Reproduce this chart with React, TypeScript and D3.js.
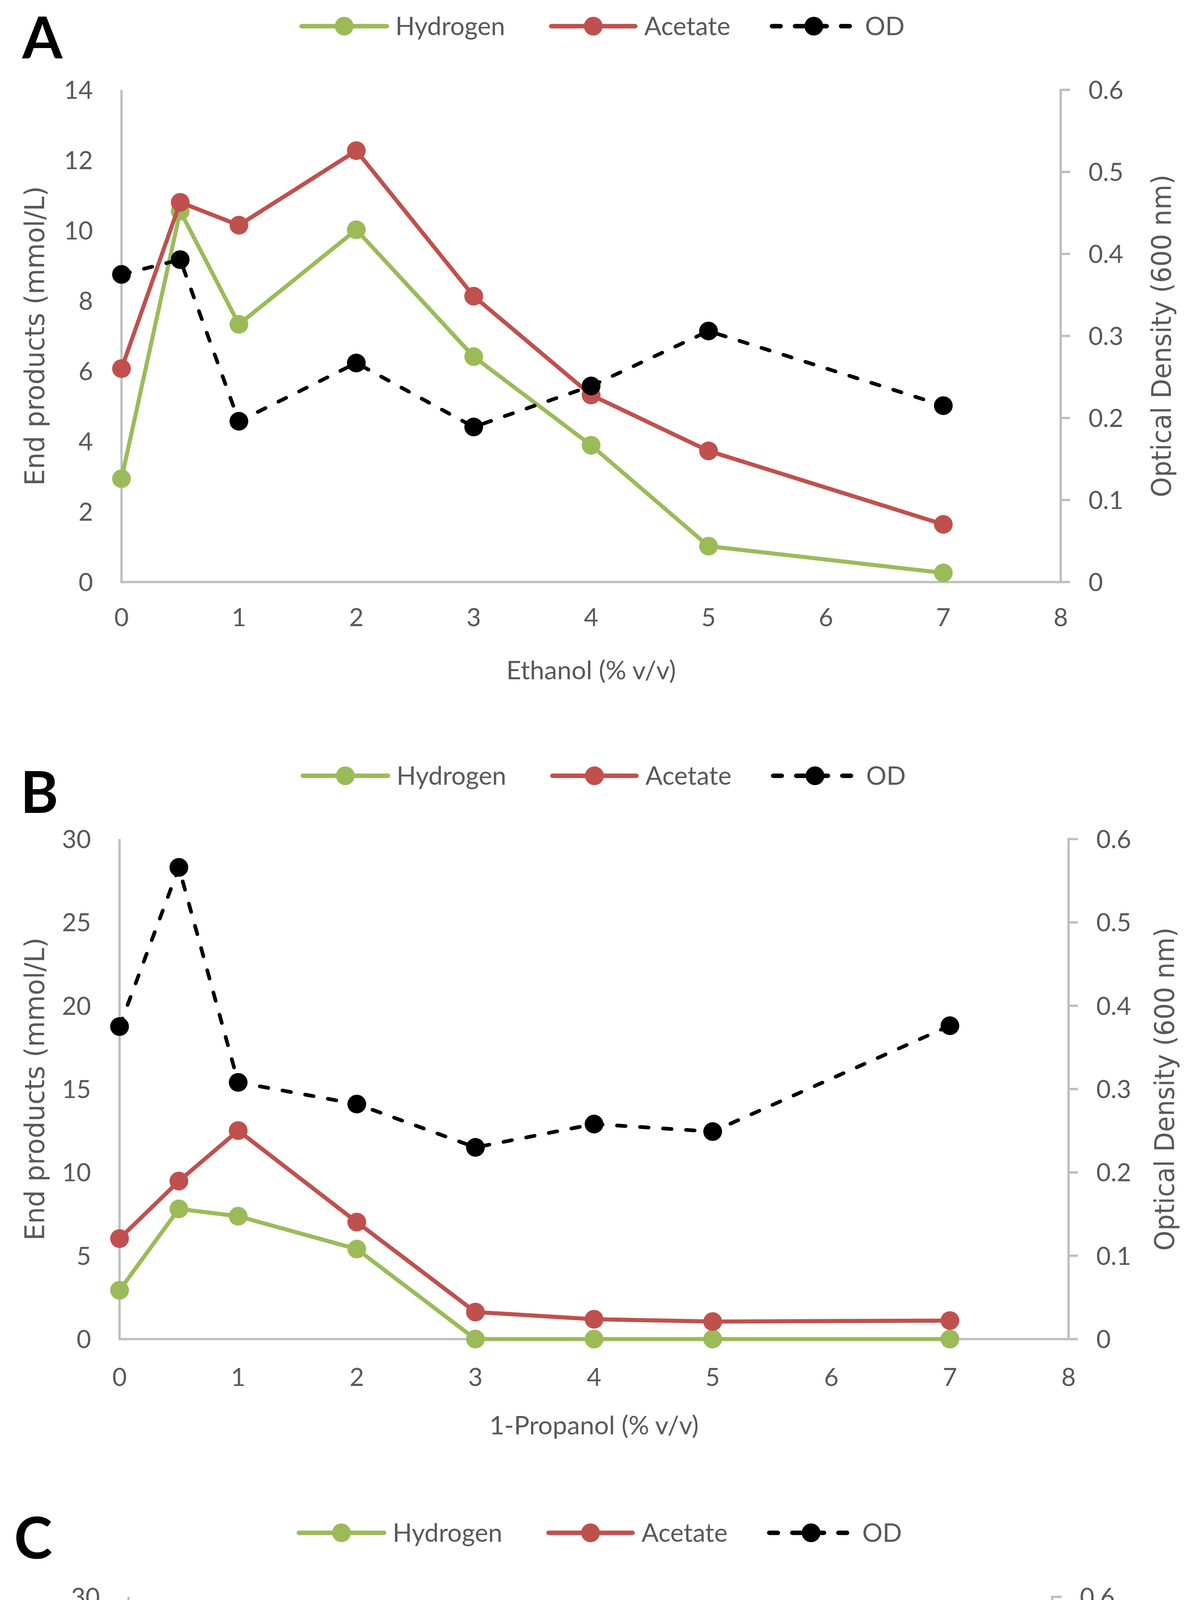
import React, { useEffect } from "react";
import * as d3 from "d3";

// ---------- data ----------
const concentrations = [0, 0.5, 1, 2, 3, 4, 5, 7];
const xTickValues = [0, 1, 2, 3, 4, 5, 6, 7, 8];
const odTickValues = [0, 0.1, 0.2, 0.3, 0.4, 0.5, 0.6];
const seriesNames = ["Hydrogen", "Acetate", "OD"];

const ethanolHydrogen = [2.94, 10.55, 7.33, 10.02, 6.41, 3.89, 1.02, 0.26];
const ethanolAcetate = [6.07, 10.8, 10.15, 12.27, 8.13, 5.32, 3.73, 1.64];
const ethanolOD = [0.375, 0.393, 0.196, 0.267, 0.189, 0.239, 0.306, 0.215];

const propanol1Hydrogen = [2.93, 7.81, 7.37, 5.4, 0, 0, 0, 0];
const propanol1Acetate = [6.03, 9.48, 12.51, 7.02, 1.62, 1.19, 1.05, 1.11];
const propanol1OD = [0.375, 0.566, 0.308, 0.282, 0.23, 0.258, 0.249, 0.376];

const propanol2Hydrogen = [2.95, 3.07, 2.74, 5.12, 5.17, 0, 0, 0];
const propanol2Acetate = [6.08, 4.11, 2.98, 4.25, 3.9, 1.33, 1.42, 1.07];
const propanol2OD = [0.375, 0.348, 0.375, 0.342, 0.308, 0.401, 0.339, 0.298];

// ---------- style ----------
const GREEN = "#9BBB59";
const RED = "#C0504D";
const BLACK = "#000000";
const AXIS = "#BFBFBF";
const TEXT = "#595959";
const LABEL_FONT = "Lato, 'Open Sans', sans-serif";
const TITLE_FONT = "'DejaVu Sans', Verdana, sans-serif";

type PanelCfg = {
  letter: string;
  letterX: number;
  letterY: number;
  x0: number;
  x8: number;
  yTop: number;
  yBot: number;
  yMax: number;
  yStep: number;
  legendY: number;
  legendDx: number;
  tickDy: number;
  titleY: number;
  leftTitleX: number;
  rightTitleX: number;
  leftLen: number;
  rightLen: number;
  bold: boolean;
  xTitle: string;
  hydrogen: number[];
  acetate: number[];
  od: number[];
};

const panels: PanelCfg[] = [
  {
    letter: "A", letterX: 57, letterY: 149,
    x0: 311, x8: 2715, yTop: 230, yBot: 1490, yMax: 14, yStep: 2,
    legendY: 67, legendDx: 0, tickDy: 90, titleY: 1717,
    leftTitleX: 113, rightTitleX: 2997, leftLen: 767, rightLen: 826, bold: false,
    xTitle: "Ethanol (% v/v)",
    hydrogen: ethanolHydrogen, acetate: ethanolAcetate, od: ethanolOD,
  },
  {
    letter: "B", letterX: 52, letterY: 2081,
    x0: 306, x8: 2735, yTop: 2148, yBot: 3428, yMax: 30, yStep: 5,
    legendY: 1986, legendDx: 3, tickDy: 97, titleY: 3650,
    leftTitleX: 113, rightTitleX: 3005, leftLen: 776, rightLen: 828, bold: false,
    xTitle: "1-Propanol (% v/v)",
    hydrogen: propanol1Hydrogen, acetate: propanol1Acetate, od: propanol1OD,
  },
  {
    letter: "C", letterX: 36, letterY: 3990,
    x0: 329, x8: 2693, yTop: 4088, yBot: 5323, yMax: 30, yStep: 5,
    legendY: 3924, legendDx: -7, tickDy: 97, titleY: 5539,
    leftTitleX: 137, rightTitleX: 2962, leftLen: 773, rightLen: 844, bold: true,
    xTitle: "2-Propanol (% v/v)",
    hydrogen: propanol2Hydrogen, acetate: propanol2Acetate, od: propanol2OD,
  },
];

const LINE_W = 10.5;
const MARKER_R = 24;
const DASH = "22 37";

const legendItems = [
  { start: 772, end: 990, textX: 1012 },
  { start: 1411, end: 1626, textX: 1649 },
  { start: 1976, end: 2190, textX: 2214 },
];
const legendColors = [GREEN, RED, BLACK];

function Panel({ p }: { p: PanelCfg }) {
  const x = d3.scaleLinear().domain([0, 8]).range([p.x0, p.x8]);
  const yL = d3.scaleLinear().domain([0, p.yMax]).range([p.yBot, p.yTop]);
  const yR = d3.scaleLinear().domain([0, 0.6]).range([p.yBot, p.yTop]);
  const leftTicks = d3.range(0, p.yMax + 0.001, p.yStep);

  const lineL = d3.line<number>().x((_, i) => x(concentrations[i])).y((d) => yL(d));
  const lineR = d3.line<number>().x((_, i) => x(concentrations[i])).y((d) => yR(d));

  const cy = (p.yTop + p.yBot) / 2;
  const cx = (p.x0 + p.x8) / 2;

  return (
    <g>
      <text x={p.letterX} y={p.letterY} fontFamily={LABEL_FONT} fontWeight={700} fontSize={148} fill="#000">
        {p.letter}
      </text>
      <g transform={`translate(${p.legendDx},0)`}>
        {legendItems.map((it, i) => (
          <g key={i}>
            <line x1={it.start} x2={it.end} y1={p.legendY} y2={p.legendY} stroke={legendColors[i]} strokeWidth={LINE_W + 1} strokeLinecap="round" strokeDasharray={i === 2 ? DASH : undefined} />
            <circle cx={(it.start + it.end) / 2} cy={p.legendY} r={MARKER_R} fill={legendColors[i]} />
            <text x={it.textX} y={p.legendY + 23} fontFamily={LABEL_FONT} fontSize={65} fill={TEXT}>
              {seriesNames[i]}
            </text>
          </g>
        ))}
      </g>
      <line x1={p.x0} x2={p.x0} y1={p.yTop} y2={p.yBot} stroke={AXIS} strokeWidth={6} />
      <line x1={p.x0 - 3} x2={p.x8 + 24} y1={p.yBot} y2={p.yBot} stroke={AXIS} strokeWidth={6} />
      <line x1={p.x8} x2={p.x8} y1={p.yTop - 3} y2={p.yBot} stroke={AXIS} strokeWidth={6} />
      {odTickValues.map((t) => (
        <line key={t} x1={p.x8} x2={p.x8 + 24} y1={yR(t)} y2={yR(t)} stroke={AXIS} strokeWidth={6} />
      ))}
      {leftTicks.map((t) => (
        <text key={"l" + t} x={p.x0 - 73} y={yL(t) + 23} textAnchor="end" fontFamily={LABEL_FONT} fontSize={64} fill={TEXT}>{t}</text>
      ))}
      {odTickValues.map((t) => (
        <text key={"r" + t} x={p.x8 + 71} y={yR(t) + 23} fontFamily={LABEL_FONT} fontSize={64} fill={TEXT}>
          {t === 0 ? "0" : d3.format(".1f")(t)}
        </text>
      ))}
      {xTickValues.map((t) => (
        <text key={"x" + t} x={x(t)} y={p.yBot + p.tickDy + 23} textAnchor="middle" fontFamily={LABEL_FONT} fontSize={64} fill={TEXT}>{t}</text>
      ))}
      <text x={cx} y={p.titleY + 22} textAnchor="middle" fontFamily={LABEL_FONT} fontSize={66} fill={TEXT}>{p.xTitle}</text>
      <text transform={`translate(${p.leftTitleX},${cy}) rotate(-90)`} textAnchor="middle" fontFamily={TITLE_FONT} fontSize={70} fill={TEXT} textLength={p.leftLen} lengthAdjust="spacingAndGlyphs">
        <tspan fontWeight={p.bold ? 700 : 400}>End products</tspan>
        <tspan> (mmol/L)</tspan>
      </text>
      <text transform={`translate(${p.rightTitleX},${cy}) rotate(-90)`} textAnchor="middle" fontFamily={TITLE_FONT} fontSize={70} fill={TEXT} textLength={p.rightLen} lengthAdjust="spacingAndGlyphs">
        <tspan fontWeight={p.bold ? 700 : 400}>Optical Density</tspan>
        <tspan> (600 nm)</tspan>
      </text>
      <path d={lineL(p.hydrogen) || ""} fill="none" stroke={GREEN} strokeWidth={LINE_W} strokeLinejoin="round" />
      {p.hydrogen.map((v, i) => (
        <circle key={"h" + i} cx={x(concentrations[i])} cy={yL(v)} r={MARKER_R} fill={GREEN} />
      ))}
      <path d={lineL(p.acetate) || ""} fill="none" stroke={RED} strokeWidth={LINE_W} strokeLinejoin="round" />
      {p.acetate.map((v, i) => (
        <circle key={"a" + i} cx={x(concentrations[i])} cy={yL(v)} r={MARKER_R} fill={RED} />
      ))}
      <path d={lineR(p.od) || ""} fill="none" stroke={BLACK} strokeWidth={LINE_W - 1} strokeDasharray={DASH} strokeLinecap="round" />
      {p.od.map((v, i) => (
        <circle key={"o" + i} cx={x(concentrations[i])} cy={yR(v)} r={MARKER_R} fill={BLACK} />
      ))}
    </g>
  );
}

export default function App() {
  useEffect(() => {
    document.body.style.margin = "0";
    document.documentElement.style.margin = "0";
  }, []);
  return (
    <div style={{ width: 3051, height: 5615, overflow: "hidden", margin: 0 }}>
      <svg width={3051} height={5615} viewBox="0 0 3051 5615" style={{ display: "block", background: "#fff" }}>
        <rect x={0} y={0} width={3051} height={5615} fill="#fff" />
        {panels.map((p) => (
          <Panel key={p.letter} p={p} />
        ))}
      </svg>
    </div>
  );
}
